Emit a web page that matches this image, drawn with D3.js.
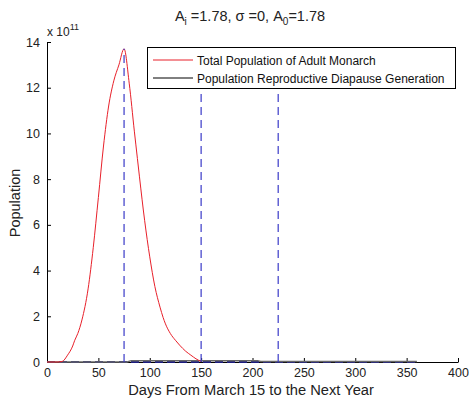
<!DOCTYPE html>
<html>
<head>
<meta charset="utf-8">
<script src="https://cdn.jsdelivr.net/npm/d3@7"></script>
<style>
  body { margin: 0; background: #fff; }
  svg { display: block; font-family: "Liberation Sans", Arial, sans-serif; }
</style>
</head>
<body>
<svg id="chart" width="469" height="401"></svg>
<script>
// ---- data (population in units of 1e11) ----
const totalDays = [0, 10, 15, 20, 25, 27, 30, 34, 40, 45, 50, 55, 60, 65, 70, 75, 80, 85, 88, 90, 95, 100, 105, 110, 113, 115, 120, 125, 129, 135, 140, 145, 150];
const totalPop  = [0, 0, 0.03, 0.3, 0.7, 0.95, 1.25, 1.84, 3.2, 5.0, 7.2, 9.45, 11.2, 12.3, 13.0, 13.7, 12.2, 10.1, 8.9, 8.1, 6.2, 4.6, 3.3, 2.4, 1.95, 1.7, 1.25, 0.95, 0.74, 0.47, 0.3, 0.14, 0.02];
const diapDays  = [0, 78, 82, 205, 208, 360];
const diapPop   = [0, 0, 0.06, 0.06, 0.02, 0.02];
const markerDays = [75, 150, 225];
const markerTop  = 13.7;
const baseDays  = [0, 360];
const xTicks = [0, 50, 100, 150, 200, 250, 300, 350, 400];
const yTicks = [0, 2, 4, 6, 8, 10, 12, 14];
const legendLabels = ["Total Population of Adult Monarch", "Population Reproductive Diapause Generation"];
const legendColors = ["#e8202a", "#000000"];

const svg = d3.select("#chart");
const x = d3.scaleLinear().domain([0, 400]).range([47, 458]);
const y = d3.scaleLinear().domain([0, 14]).range([362, 42]);

// axes
const xAxis = d3.axisBottom(x).tickValues(xTicks).tickSizeInner(-4).tickSizeOuter(0).tickPadding(6);
const yAxis = d3.axisLeft(y).tickValues(yTicks).tickSizeInner(-4).tickSizeOuter(0).tickPadding(7);

const gx = svg.append("g").attr("transform", `translate(0,${y(0)})`).call(xAxis);
const gy = svg.append("g").attr("transform", `translate(${x(0)},0)`).call(yAxis);
[gx, gy].forEach(g => {
  g.select(".domain").attr("stroke", "#000").attr("stroke-width", 1);
  g.selectAll(".tick line").attr("stroke", "#000");
  g.selectAll(".tick text").attr("fill", "#222").style("font-size", "12.5px").style("font-family", "Liberation Sans, Arial, sans-serif");
});

// lines
const line = d3.line().x(d => x(d[0])).y(d => y(d[1])).curve(d3.curveMonotoneX);

// baseline dashed
svg.append("path")
  .attr("d", d3.line()(baseDays.map(d => [x(d), y(0)])))
  .attr("stroke", "#1c1c80").attr("stroke-width", 2).attr("stroke-dasharray", "8,4").attr("fill", "none");

// diapause generation line
svg.append("path")
  .datum(diapDays.map((d, i) => [d, diapPop[i]]))
  .attr("d", d3.line().x(d => x(d[0])).y(d => y(d[1])))
  .attr("stroke", "#666").attr("stroke-width", 1.5).attr("fill", "none");

// total population
svg.append("path")
  .datum(totalDays.map((d, i) => [d, totalPop[i]]))
  .attr("d", line)
  .attr("stroke", legendColors[0]).attr("stroke-width", 1).attr("fill", "none");

// vertical markers
svg.selectAll(".vmark").data(markerDays).enter().append("line")
  .attr("x1", d => x(d)).attr("x2", d => x(d))
  .attr("y1", y(0)).attr("y2", y(markerTop))
  .attr("stroke", "#3a3ac8").attr("stroke-width", 1.2).attr("stroke-dasharray", "8,5");

// legend
const lg = svg.append("g");
lg.append("rect").attr("x", 147.5).attr("y", 47.5).attr("width", 308).attr("height", 41)
  .attr("fill", "#fff").attr("stroke", "#000").attr("stroke-width", 1);
legendLabels.forEach((t, i) => {
  const yy = 60 + i * 18;
  lg.append("line").attr("x1", 153).attr("x2", 193).attr("y1", yy).attr("y2", yy)
    .attr("stroke", legendColors[i]).attr("stroke-width", 1);
  lg.append("text").attr("x", 197).attr("y", yy + 4.5).text(t)
    .attr("fill", "#111").style("font-size", "12px");
});

// title
const title = svg.append("text").attr("x", 250).attr("y", 21).attr("text-anchor", "middle")
  .attr("fill", "#222").style("font-size", "14.5px");
title.append("tspan").text("A");
title.append("tspan").attr("dy", 4).style("font-size", "10px").text("i");
title.append("tspan").attr("dy", -4).text(" =1.78, σ =0, A");
title.append("tspan").attr("dy", 4).style("font-size", "10px").text("0");
title.append("tspan").attr("dy", -4).text("=1.78");

// exponent
const ex = svg.append("text").attr("x", 47).attr("y", 36).attr("fill", "#222").style("font-size", "12px");
ex.append("tspan").text("x 10");
ex.append("tspan").attr("dy", -6).style("font-size", "9px").text("11");

// axis labels
svg.append("text").attr("x", 251).attr("y", 395).attr("text-anchor", "middle")
  .attr("fill", "#222").style("font-size", "14.7px").text("Days From March 15 to the Next Year");
svg.append("text").attr("transform", "translate(20,203) rotate(-90)").attr("text-anchor", "middle")
  .attr("fill", "#222").style("font-size", "14.5px").text("Population");
</script>
</body>
</html>
